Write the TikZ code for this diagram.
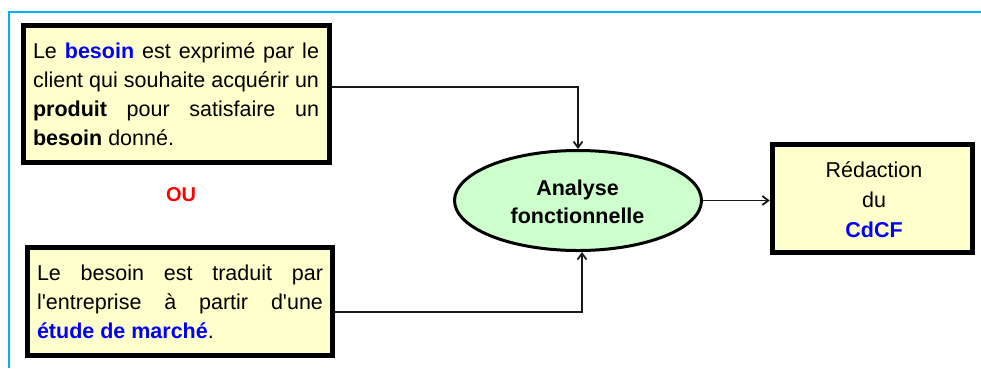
\documentclass[tikz,border=0pt]{standalone}
\usepackage{fontspec}
\setmainfont{Liberation Sans}[Ligatures=TeXOff]
\usetikzlibrary{arrows.meta,shapes.geometric}

\definecolor{framecyan}{HTML}{00B0F0}
\definecolor{paleyellow}{HTML}{FFFFCC}
\definecolor{palegreen}{HTML}{CCFFCC}
\definecolor{keyblue}{HTML}{0000FF}
\definecolor{alertred}{HTML}{FF0000}

\newcommand{\kw}[1]{\textbf{\textcolor{keyblue}{#1}}}

\tikzset{
  boxframe/.style={draw=black, line width=5.5pt, fill=paleyellow,
    rectangle, inner sep=0pt},
  bodytext/.style={inner sep=0pt, text width=286pt, align=justify,
    font=\fontsize{21.5}{29}\selectfont},
  centertext/.style={inner sep=0pt, align=center,
    font=\fontsize{21.5}{30}\selectfont},
  studybubble/.style={draw=black, line width=3pt, fill=palegreen,
    ellipse, inner sep=0pt, minimum width=247pt, minimum height=100pt},
  flow/.style={draw=black!90, line width=1.8pt,
    -{Straight Barb[length=6pt,width=9pt]}},
}

\begin{document}
\begin{tikzpicture}[x=1pt,y=-1pt]
  \useasboundingbox (0,0) rectangle (981,368);

  % open frame around the scheme
  \draw[framecyan, line width=2pt] (8.5,368) -- (8.5,11.5) -- (981,11.5);

  % the two ways a need is expressed
  \node[boxframe, minimum width=306pt, minimum height=137pt] (need1) at (176.5,94) {};
  \node[bodytext] (need1text) at (176,95.7)
    {\hyphenpenalty=10000\strut Le \kw{besoin} est exprimé par le\linebreak
     client qui souhaite acquérir un\linebreak
     \textbf{produit} pour satisfaire un\linebreak
     \textbf{besoin} donné.\strut};

  \node[font=\fontsize{20}{24}\selectfont\bfseries, text=alertred, inner sep=0pt]
    (ou) at (181,194.5) {OU};

  \node[boxframe, minimum width=305pt, minimum height=108pt] (need2) at (180,301.5) {};
  \node[bodytext] (need2text) at (180,303.2)
    {\hyphenpenalty=10000\strut Le besoin est traduit par\linebreak
     l'entreprise à partir d'une\linebreak
     \kw{étude de marché}.\strut};

  % central analysis step
  \node[studybubble] (analyse) at (578,200.5) {};
  \node[centertext, font=\fontsize{21.5}{28}\selectfont\bfseries] (analysetext)
    at (577.5,203.4) {\strut Analyse\\fonctionnelle\strut};

  % resulting document
  \node[boxframe, minimum width=200pt, minimum height=108pt] (cdcf) at (872.5,198.5) {};
  \node[centertext] (cdcftext) at (874,201)
    {\strut Rédaction\\du\\\kw{CdCF}\strut};

  % connectors
  \draw[flow] ([yshift=7pt]need1.east) -| (analyse.north);
  \draw[flow] ([yshift=-10.5pt]need2.east) -| ([xshift=4pt]analyse.south);
  \draw[flow] (analyse.east) -- (analyse.east -| cdcf.west);
\end{tikzpicture}
\end{document}
